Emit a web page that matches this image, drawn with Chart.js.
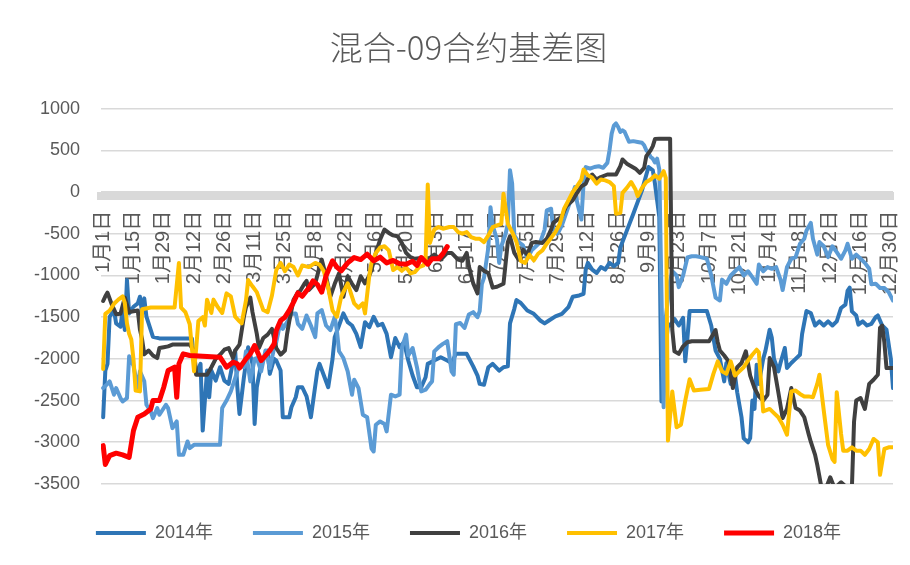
<!DOCTYPE html>
<html><head><meta charset="utf-8">
<script src="https://cdn.jsdelivr.net/npm/chart.js@4.4.1/dist/chart.umd.min.js"></script>
<style>html,body{margin:0;padding:0;background:#fff;}#wrap{width:910px;height:565px;}</style>
</head><body><div id="wrap"><canvas id="c" width="910" height="565"></canvas></div>
<script>
const seriesNames = ['2014年','2015年','2016年','2017年','2018年'];
const seriesColors = ['#2E75B6','#5B9BD5','#404040','#FFC000','#FF0000'];
const tickDays = [0,14,28,42,56,70,84,98,112,126,140,154,168,182,196,210,224,238,252,266,280,294,308,322,336,350,364];
const tickLabels = ['1月1日','1月15日','1月29日','2月12日','2月26日','3月11日','3月25日','4月8日','4月22日','5月6日','5月20日','6月3日','6月17日','7月1日','7月15日','7月29日','8月12日','8月26日','9月9日','9月23日','10月7日','10月21日','11月4日','11月18日','12月2日','12月16日','12月30日'];

// [day of year, basis]
const s2014 = [[0,-2700],[1,-2140],[2,-2060],[3,-1495],[5,-1415],[6,-1575],[8,-1615],[9,-1415],[10,-1655],[11,-1055],[12,-1455],[14,-1375],[16,-1335],[17,-1255],[18,-1455],[19,-1275],[20,-1495],[22,-1655],[23,-1735],[26,-1755],[30,-1755],[35,-1755],[41,-1755],[42,-2020],[43,-2180],[45,-2060],[46,-2860],[48,-2140],[49,-2460],[50,-2140],[52,-2260],[54,-2100],[56,-2260],[58,-2300],[61,-1900],[62,-2340],[63,-2660],[65,-2230],[67,-1860],[69,-2060],[70,-2780],[71,-2340],[73,-2060],[76,-1900],[77,-2180],[79,-2000],[80,-2020],[82,-2140],[83,-2700],[86,-2700],[87,-2580],[89,-2460],[90,-2340],[92,-2340],[94,-2450],[96,-2700],[97,-2510],[99,-2140],[100,-2060],[102,-2200],[104,-2340],[106,-2000],[107,-1740],[109,-1600],[111,-1455],[113,-1560],[115,-1600],[117,-1700],[119,-1860],[121,-1560],[123,-1620],[125,-1495],[127,-1600],[129,-1580],[131,-1700],[133,-1980],[135,-1750],[137,-1860],[139,-1800],[141,-2020],[143,-2200],[145,-2340],[147,-2340],[149,-2220],[150,-2060],[153,-2020],[156,-1980],[159,-2020],[161,-2050],[163,-1940],[166,-1940],[168,-1940],[171,-2090],[173,-2200],[174,-2300],[176,-2310],[178,-2100],[180,-2060],[183,-2140],[185,-2100],[187,-2090],[188,-1575],[190,-1400],[191,-1295],[193,-1330],[196,-1420],[199,-1460],[202,-1540],[204,-1575],[206,-1540],[209,-1490],[212,-1460],[215,-1380],[217,-1255],[220,-1240],[222,-1220],[223,-930],[224,-850],[226,-930],[228,-970],[230,-900],[232,-930],[234,-850],[236,-890],[238,-850],[239,-664],[242,-463],[245,-260],[249,20],[252,300],[254,260],[255,100],[257,-300],[258,-2511],[260,-1869],[261,-1585],[262,-1600],[264,-1520],[266,-1600],[268,-1507],[269,-2030],[270,-1750],[271,-1427],[275,-1427],[279,-1427],[281,-1600],[283,-1900],[285,-2000],[287,-2270],[288,-2050],[290,-2300],[292,-2200],[293,-2400],[295,-2700],[296,-2953],[298,-3000],[299,-2950],[300,-2500],[301,-2600],[302,-2070],[303,-2300],[305,-2000],[306,-1909],[308,-1650],[309,-1748],[310,-2000],[312,-2150],[313,-2050],[315,-1869],[316,-2110],[318,-2050],[320,-2000],[322,-1950],[323,-1700],[325,-1427],[327,-1450],[329,-1600],[331,-1550],[333,-1600],[335,-1550],[337,-1600],[339,-1550],[341,-1390],[343,-1350],[344,-1186],[345,-1146],[346,-1430],[348,-1480],[349,-1590],[351,-1550],[353,-1600],[355,-1580],[357,-1500],[358,-1480],[360,-1600],[362,-1650],[364,-2000],[365,-2350]];

const s2015 = [[0,-2350],[2,-2300],[3,-2270],[5,-2430],[6,-2350],[8,-2470],[9,-2511],[11,-2470],[12,-1969],[14,-2080],[16,-2350],[17,-2150],[19,-2270],[20,-2550],[22,-2630],[23,-2710],[25,-2590],[26,-2670],[29,-2550],[30,-2590],[32,-2830],[34,-2750],[35,-3150],[37,-3150],[39,-2990],[40,-3070],[42,-3030],[54,-3030],[55,-2590],[57,-2500],[59,-2390],[61,-2230],[63,-2070],[65,-2100],[66,-1910],[68,-2270],[70,-2000],[71,-1990],[73,-2150],[75,-1900],[76,-1990],[77,-2110],[79,-1870],[80,-1800],[82,-1550],[83,-1640],[85,-1560],[87,-1460],[89,-1455],[90,-1580],[92,-1640],[94,-1480],[96,-1600],[98,-1740],[99,-1455],[101,-1415],[103,-1600],[105,-1655],[107,-1500],[108,-1655],[109,-1909],[111,-1990],[113,-2150],[115,-2430],[116,-2250],[118,-2350],[120,-2670],[122,-2700],[124,-3075],[125,-3110],[126,-2790],[128,-2750],[130,-2780],[131,-2870],[133,-2430],[135,-2450],[137,-2430],[138,-1870],[140,-1710],[141,-1960],[143,-1870],[145,-2100],[147,-2390],[149,-2370],[151,-2300],[152,-2270],[153,-1910],[155,-1860],[157,-1820],[159,-1788],[161,-2150],[162,-2190],[163,-1585],[165,-1570],[167,-1630],[169,-1467],[171,-1440],[173,-1500],[174,-1427],[175,-1105],[176,-1025],[178,-664],[179,-182],[180,-400],[182,-570],[183,-850],[184,-650],[186,-500],[187,-380],[188,262],[189,100],[190,-520],[192,-600],[194,-640],[196,-800],[198,-700],[200,-650],[202,-600],[204,-450],[205,-220],[207,-200],[208,-450],[210,-500],[212,-400],[214,-250],[216,-100],[218,60],[219,-120],[221,-330],[222,100],[223,300],[225,280],[227,300],[229,310],[231,290],[233,350],[234,500],[235,700],[236,795],[237,822],[238,780],[239,720],[240,740],[241,720],[243,602],[245,610],[247,600],[249,590],[250,560],[251,500],[252,470],[253,420],[254,400],[255,355],[256,400],[257,270],[258,-1200],[259,-2580],[260,-1500],[262,-1070],[263,-950],[265,-1000],[266,-1140],[268,-1000],[270,-785],[272,-770],[274,-770],[276,-780],[279,-800],[281,-1000],[283,-1266],[285,-1300],[286,-1050],[288,-1100],[290,-1000],[292,-950],[294,-900],[296,-1000],[298,-950],[300,-1020],[302,-1100],[303,-870],[305,-950],[307,-900],[309,-920],[311,-900],[313,-1050],[314,-1175],[316,-900],[318,-800],[320,-780],[322,-620],[324,-560],[325,-463],[327,-370],[328,-560],[330,-750],[331,-600],[333,-650],[335,-780],[337,-650],[339,-720],[341,-800],[343,-700],[344,-620],[346,-800],[348,-750],[350,-800],[352,-850],[354,-920],[355,-1105],[357,-1100],[359,-1150],[361,-1150],[363,-1200],[365,-1300]];

const s2016 = [[0,-1306],[1,-1250],[2,-1206],[4,-1350],[6,-1464],[8,-1460],[10,-1266],[12,-1440],[14,-1430],[16,-1420],[17,-1650],[18,-1767],[19,-1946],[21,-1900],[23,-1960],[25,-1990],[26,-1869],[28,-1860],[30,-1850],[32,-1829],[36,-1829],[40,-1829],[42,-1900],[43,-2190],[45,-2190],[48,-2190],[50,-2100],[52,-2000],[54,-1950],[56,-1890],[58,-1870],[60,-1990],[61,-1900],[63,-1829],[65,-1500],[66,-1380],[68,-1266],[69,-1440],[71,-1700],[72,-1870],[74,-1750],[76,-1710],[78,-1640],[80,-1870],[82,-1950],[84,-1900],[85,-1700],[86,-1550],[88,-1290],[90,-1200],[91,-1186],[93,-1100],[94,-1065],[95,-1175],[98,-1095],[100,-900],[101,-810],[103,-1010],[105,-1255],[107,-1100],[109,-975],[111,-1255],[113,-1010],[115,-1100],[117,-1175],[119,-1010],[121,-1095],[123,-1000],[124,-935],[126,-730],[128,-570],[130,-450],[132,-490],[134,-520],[136,-530],[138,-610],[140,-730],[142,-780],[144,-800],[147,-790],[150,-810],[153,-750],[156,-810],[159,-730],[161,-730],[164,-810],[166,-825],[168,-730],[169,-890],[171,-1095],[173,-1215],[174,-900],[176,-945],[178,-970],[180,-1146],[182,-1135],[185,-1100],[187,-600],[188,-530],[190,-730],[192,-810],[194,-690],[196,-750],[198,-610],[200,-600],[203,-610],[205,-560],[207,-450],[208,-370],[210,-330],[212,-290],[214,-170],[217,-100],[219,-10],[221,70],[223,100],[224,160],[226,210],[228,150],[230,180],[233,210],[235,210],[237,210],[239,310],[240,390],[242,340],[244,310],[246,280],[248,230],[250,290],[251,430],[253,500],[254,550],[255,635],[257,640],[262,640],[263,-1650],[264,-1909],[266,-1940],[268,-1850],[270,-1800],[272,-1788],[280,-1788],[282,-1700],[283,-1655],[284,-1800],[285,-1900],[287,-1960],[289,-2030],[291,-2350],[293,-2100],[295,-2050],[297,-1909],[299,-2200],[301,-2350],[303,-2450],[305,-2500],[307,-2430],[308,-1990],[310,-2100],[312,-2400],[314,-2710],[316,-2600],[318,-2350],[320,-2590],[322,-2620],[324,-2700],[326,-2900],[327,-2993],[329,-3150],[330,-3270],[332,-3550],[334,-3550],[336,-3420],[338,-3550],[341,-3480],[344,-3550],[346,-3550],[347,-2752],[348,-2500],[350,-2470],[352,-2600],[354,-2300],[356,-2250],[358,-2190],[359,-1628],[360,-1600],[361,-1800],[362,-2110],[365,-2110]];

const s2017 = [[0,-2120],[1,-1460],[3,-1420],[5,-1340],[7,-1290],[9,-1250],[10,-1330],[11,-1575],[12,-1700],[13,-1767],[14,-2000],[15,-2380],[17,-2390],[18,-1405],[22,-1385],[33,-1385],[35,-850],[36,-1385],[38,-1440],[40,-1585],[41,-1870],[42,-2150],[43,-1870],[44,-1545],[46,-1500],[47,-1600],[48,-1290],[50,-1450],[51,-1290],[53,-1380],[55,-1450],[57,-1215],[59,-1250],[61,-1495],[63,-1550],[64,-1575],[66,-1300],[67,-1055],[69,-1130],[71,-1200],[74,-1415],[76,-1440],[78,-1240],[80,-935],[82,-850],[84,-950],[86,-870],[88,-900],[90,-1000],[92,-880],[95,-900],[98,-850],[100,-870],[102,-950],[104,-1150],[106,-1420],[108,-1495],[110,-1255],[113,-1095],[116,-1335],[118,-1387],[120,-1335],[121,-1455],[123,-1000],[124,-850],[126,-730],[128,-664],[130,-650],[132,-700],[134,-935],[136,-900],[138,-945],[140,-900],[142,-975],[144,-960],[146,-900],[148,-880],[149,-810],[150,90],[151,-610],[153,-450],[155,-420],[157,-440],[160,-420],[162,-420],[164,-480],[166,-500],[168,-480],[170,-540],[172,-560],[174,-560],[176,-600],[178,-520],[180,-420],[182,-400],[184,-383],[185,-20],[187,-380],[189,-480],[191,-600],[193,-825],[195,-850],[197,-750],[199,-820],[201,-740],[203,-700],[205,-620],[207,-550],[209,-480],[211,-383],[213,-200],[215,-100],[217,0],[219,70],[221,150],[222,270],[224,200],[226,170],[228,100],[230,150],[232,140],[234,120],[236,70],[237,-260],[239,-250],[240,-10],[242,50],[244,120],[246,30],[247,-50],[249,50],[251,120],[253,150],[255,200],[257,160],[259,250],[260,170],[261,-2980],[263,-2390],[265,-2820],[267,-2790],[269,-2500],[271,-2245],[273,-2380],[276,-2370],[280,-2360],[282,-2180],[284,-2030],[286,-2150],[288,-2180],[290,-2030],[292,-2200],[294,-2150],[296,-2100],[298,-2020],[300,-1950],[302,-1890],[303,-1920],[305,-2630],[308,-2600],[310,-2650],[312,-2700],[314,-2790],[316,-2910],[318,-2390],[320,-2380],[322,-2420],[324,-2450],[326,-2450],[328,-2460],[330,-2300],[331,-2190],[333,-2620],[335,-3030],[337,-3200],[338,-3235],[339,-2400],[341,-2900],[342,-3100],[344,-3100],[346,-3060],[348,-3100],[350,-3100],[352,-3150],[354,-3080],[356,-2960],[358,-3000],[359,-3390],[361,-3080],[363,-3060],[365,-3060]];

const s2018 = [[0,-3040],[1,-3265],[3,-3160],[6,-3130],[9,-3150],[12,-3180],[14,-2860],[16,-2700],[19,-2660],[22,-2600],[23,-2500],[26,-2500],[28,-2340],[30,-2140],[33,-2100],[34,-2460],[35,-2060],[37,-1940],[40,-1960],[46,-1970],[54,-1980],[57,-2100],[60,-2040],[62,-2060],[63,-2110],[66,-2000],[68,-1940],[70,-1840],[73,-2020],[75,-1960],[77,-1900],[79,-1820],[80,-1660],[82,-1540],[84,-1500],[86,-1420],[88,-1320],[90,-1210],[92,-1250],[95,-1150],[97,-1065],[99,-1110],[101,-1200],[103,-1005],[106,-825],[108,-900],[110,-945],[113,-850],[116,-785],[119,-810],[122,-745],[125,-825],[128,-780],[131,-850],[134,-820],[137,-860],[140,-865],[143,-830],[145,-880],[147,-785],[150,-865],[152,-800],[155,-800],[157,-740],[159,-655]];

const allSeries = [s2014, s2015, s2016, s2017, s2018];
const lineWidths = [4, 4, 4, 4, 5];

const FONT = "'Liberation Sans', 'Noto Sans CJK SC', sans-serif";
const TEXT = '#595959';
const PADL = 44;

const datasets = allSeries.map((s, i) => ({
  label: seriesNames[i],
  data: s.map(p => ({x: p[0], y: p[1]})),
  borderColor: seriesColors[i],
  backgroundColor: seriesColors[i],
  borderWidth: lineWidths[i],
  pointRadius: 0,
  pointHoverRadius: 0,
  tension: 0,
  borderJoinStyle: 'round',
  borderCapStyle: 'round',
  fill: false,
  order: 5 - i
}));

// let the y tick labels use the space left of the layout padding
const widenYLabels = {
  id: 'widenYLabels',
  afterLayout(chart) { chart.scales.y.left = 0; }
};

new Chart(document.getElementById('c'), {
  type: 'line',
  data: { datasets },
  plugins: [widenYLabels],
  options: {
    responsive: false,
    animation: false,
    layout: { padding: { left: PADL, right: 17, top: 0, bottom: 13 } },
    plugins: {
      title: {
        display: true, text: '混合-09合约基差图', color: TEXT,
        font: { family: "'Noto Sans CJK SC', sans-serif", size: 33, weight: 300 },
        padding: { top: 28, bottom: 41 }
      },
      legend: {
        position: 'bottom', reverse: true,
        labels: {
          usePointStyle: true, pointStyle: 'line', pointStyleWidth: 50,
          color: TEXT, font: { family: FONT, size: 18 }, padding: 40
        }
      },
      tooltip: { enabled: false }
    },
    scales: {
      x: {
        type: 'linear', min: -1, max: 365,
        position: { y: -45 },
        grid: { display: false, drawTicks: false },
        border: { display: true, color: '#D9D9D9', width: 8 },
        afterBuildTicks: (s) => { s.ticks = tickDays.map(v => ({ value: v })); },
        afterFit: (s) => { s.paddingLeft = 0; s.paddingRight = 0; },
        ticks: {
          autoSkip: false, maxRotation: 90, minRotation: 90, padding: 15,
          color: TEXT, font: { family: FONT, size: 20 },
          callback: (v, i) => tickLabels[i]
        }
      },
      y: {
        min: -3500, max: 1000,
        afterFit: (s) => { s.width = 101 - PADL; },
        grid: { color: '#D9D9D9', lineWidth: 1.6, drawTicks: false },
        border: { display: false },
        ticks: { stepSize: 500, padding: 21, color: TEXT, font: { family: FONT, size: 18 },
          callback: (v) => String(v) }
      }
    }
  }
});
</script></body></html>
